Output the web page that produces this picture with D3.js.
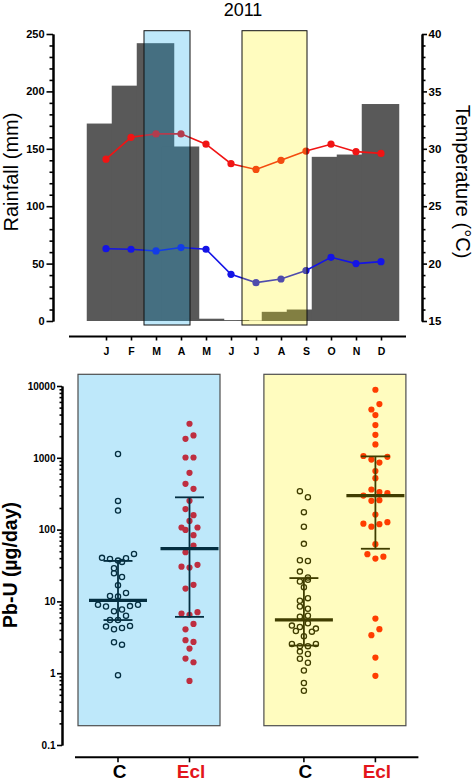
<!DOCTYPE html>
<html>
<head>
<meta charset="utf-8">
<script src="https://cdn.jsdelivr.net/npm/d3@7"></script>
<style>
  html, body { margin: 0; padding: 0; background: #fff; }
  svg { display: block; font-family: "Liberation Sans", Arial, sans-serif; }
</style>
</head>
<body>
<svg id="chart" width="473" height="782"></svg>
<script>
// ---------------- DATA ----------------
const months = ["J","F","M","A","M","J","J","A","S","O","N","D"];
const rainfall = [172, 205, 242, 152, 2, 0.8, 0.3, 8, 10, 143, 145, 189];          // mm
const tempHigh = [29.1, 31.0, 31.3, 31.3, 30.4, 28.7, 28.2, 29.0, 29.8, 30.4, 29.75, 29.6]; // °C
const tempLow  = [21.3, 21.25, 21.1, 21.4, 21.25, 19.07, 18.34, 18.66, 19.4, 20.55, 20.0, 20.17];
const rainTicks = [0, 50, 100, 150, 200, 250];
const tempTicks = [15, 20, 25, 30, 35, 40];
const shadePeriods = [[1.52, 3.36], [5.44, 8.04]];   // month-index ranges of the two sampling periods
const title = "2011";

const groupLabels = ["C", "Ecl", "C", "Ecl"];
const pbC_1 = [1130, 251, 184, 40.4, 39, 37, 40, 45.9, 29, 35.5, 24.7, 21.9, 16.8,
  11.9, 11.7, 13.1, 9.0, 8.5, 7.3, 7.7, 8.6, 9.0, 5.5, 5.5, 6.3, 4.46, 4.1, 4.27, 4.56, 2.7, 2.5, 0.94];
const pbEcl_1 = [2980, 1840, 2050, 1010, 1010, 618, 434, 370, 252, 193, 159, 107, 132, 107, 99, 83.6,
  48.4, 60, 30.5, 29.6, 32.3, 15.1, 17, 6.76, 6.5, 7.07, 4.09, 4.86, 2.88, 2.73, 2.2, 1.6, 1.42, 0.78];
const pbC_2 = [343, 283, 175, 110, 63.3, 37.5, 36.6, 26, 18.9, 21.5, 20.0, 15.8, 10.2, 11.1, 8.5, 7.9,
  6.1, 6.3, 4.6, 4.41, 4.96, 4.18, 3.87, 3.27, 3.79, 2.56, 2.38, 2.38, 2.56, 2.0, 1.85, 1.59, 1.40, 1.09, 0.73, 0.57];
const pbEcl_2 = [8870, 4710, 5600, 3940, 2860, 2090, 1535, 1060, 946, 859, 1033, 653, 521, 298, 362, 333, 322,
  252, 257, 162, 121, 110, 119, 127, 62.7, 45.5, 39.5, 42, 5.76, 3.38, 4.1, 1.65, 0.92];
const logTicks = [0.1, 1, 10, 100, 1000, 10000];

// ---------------- SETUP ----------------
const svg = d3.select("#chart");
const FONT = '"Liberation Sans", Arial, sans-serif';
const shadeFill = ["rgba(15,171,236,0.27)", "rgba(255,245,0,0.25)"];

function styleAxis(g, fs) {
  g.selectAll(".domain").attr("stroke", "#000").attr("stroke-width", 2);
  g.selectAll(".tick line").attr("stroke", "#000").attr("stroke-width", 1.6);
  g.selectAll(".tick text").attr("font-size", fs).attr("font-weight", "bold")
    .attr("font-family", FONT).attr("fill", "#000");
}

// ================= TOP CHART =================
const xM = d3.scaleLinear().domain([0, 11]).range([106, 381]);
const yR = d3.scaleLinear().domain([0, 250]).range([321, 34]);
const yT = d3.scaleLinear().domain([15, 40]).range([321, 34]);
const step = xM(1) - xM(0);

svg.append("text").attr("x", 243).attr("y", 16).attr("text-anchor", "middle")
  .attr("font-size", 18).attr("font-family", FONT).text(title);

// bars (wide overlapping bars, step-like look)
const topG = svg.append("g");
topG.selectAll("rect.bar").data(rainfall).join("rect").attr("class", "bar")
  .attr("x", (d, i) => xM(i) - 0.77 * step)
  .attr("width", 1.5 * step)
  .attr("y", d => yR(d))
  .attr("height", d => yR(0) - yR(d))
  .attr("fill", "#595959");

// temperature lines
const lineT = d3.line().x((d, i) => xM(i)).y(d => yT(d));
[[tempHigh, "rgb(240,20,20)"], [tempLow, "rgb(20,20,230)"]].forEach(([arr, col]) => {
  topG.append("path").datum(arr).attr("d", lineT).attr("fill", "none")
    .attr("stroke", col).attr("stroke-width", 1.6);
  topG.selectAll(null).data(arr).join("circle")
    .attr("cx", (d, i) => xM(i)).attr("cy", d => yT(d)).attr("r", 3.6).attr("fill", col);
});

// shaded sampling periods
shadePeriods.forEach((p, k) => {
  topG.append("rect")
    .attr("x", xM(p[0])).attr("width", xM(p[1]) - xM(p[0]))
    .attr("y", yR(250) - 3.3).attr("height", (yR(0) + 4) - (yR(250) - 3.3))
    .attr("fill", shadeFill[k]).attr("stroke", "#111").attr("stroke-width", 1);
});

// left axis
const gL = svg.append("g").attr("transform", "translate(53,0)");
gL.call(d3.axisLeft(yR).tickValues(d3.range(0, 251, 10).filter(v => v % 50)).tickSize(3.5).tickFormat("").tickSizeOuter(0));
gL.append("g").call(d3.axisLeft(yR).tickValues(rainTicks).tickSize(6.5).tickPadding(2).tickSizeOuter(0));
styleAxis(gL, 11);
// right axis
const gR = svg.append("g").attr("transform", "translate(422,0)");
gR.call(d3.axisRight(yT).tickValues(d3.range(15, 41, 1).filter(v => v % 5)).tickSize(3.5).tickFormat("").tickSizeOuter(0));
gR.append("g").call(d3.axisRight(yT).tickValues(tempTicks).tickSize(5).tickPadding(1.5).tickSizeOuter(0));
styleAxis(gR, 11.5);

// month axis
const gM = svg.append("g").attr("transform", "translate(0,336.5)");
gM.append("line").attr("x1", xM(-1.48)).attr("x2", xM(12)).attr("stroke", "#000").attr("stroke-width", 2);
gM.append("g").call(d3.axisBottom(xM).tickValues(d3.range(12)).tickFormat(i => months[i]).tickSize(4).tickPadding(7).tickSizeOuter(0))
  .call(g => g.select(".domain").remove());
styleAxis(gM, 10.5);

svg.append("text").attr("transform", "translate(18,172) rotate(-90)").attr("text-anchor", "middle")
  .attr("font-size", 20).attr("font-family", FONT).text("Rainfall (mm)");
svg.append("text").attr("transform", "translate(456,181.5) rotate(90)").attr("text-anchor", "middle")
  .attr("font-size", 20).attr("font-family", FONT).text("Temperature (°C)");

// ================= BOTTOM CHART =================
const yL = d3.scaleLog().domain([0.1, 10000]).range([745, 386]);
const groupPos = [0, 1, 2.6, 3.6];
const xG = d3.scaleLinear().domain([0, 1]).range([118, 189.5]);
const groups = [pbC_1, pbEcl_1, pbC_2, pbEcl_2];

function q6(sorted, p) {   // quantile, (n+1)p method
  const n = sorted.length, h = (n + 1) * p;
  if (h <= 1) return sorted[0];
  if (h >= n) return sorted[n - 1];
  const f = Math.floor(h);
  return sorted[f - 1] + (h - f) * (sorted[f] - sorted[f - 1]);
}

function swarm(vals, cx) {
  const pts = vals.map((v, i) => ({ v, i, y: yL(v) }));
  const sorted = pts.slice().sort((a, b) => a.y - b.y || a.i - b.i);
  const rows = [];
  let cur = null;
  sorted.forEach(p => {
    if (!cur || p.y - cur.y0 >= 7) { cur = { y0: p.y, pts: [] }; rows.push(cur); }
    cur.pts.push(p);
  });
  rows.forEach(r => {
    r.pts.sort((a, b) => a.i - b.i);
    const n = r.pts.length;
    r.pts.forEach((p, k) => { p.x = cx + (k - (n - 1) / 2) * 8; });
  });
  return pts;
}

const bot = svg.append("g");
groups.forEach((vals, gi) => {
  const cx = xG(groupPos[gi]);
  const isEcl = gi % 2 === 1;
  const pts = swarm(vals, cx);
  const s = vals.slice().sort((a, b) => a - b);
  const med = q6(s, 0.5), q1 = q6(s, 0.25), q3 = q6(s, 0.75);
  const g = bot.append("g");
  g.selectAll("circle").data(pts).join("circle")
    .attr("cx", d => d.x).attr("cy", d => d.y)
    .attr("r", isEcl ? 3.1 : 2.6)
    .attr("fill", isEcl ? "rgb(255,0,0)" : "none")
    .attr("stroke", isEcl ? "none" : "#000")
    .attr("stroke-width", 1.3);
  g.append("line").attr("x1", cx).attr("x2", cx).attr("y1", yL(q1)).attr("y2", yL(q3))
    .attr("stroke", "#000").attr("stroke-width", 1.8);
  [q1, q3].forEach(q => g.append("line").attr("x1", cx - 14.5).attr("x2", cx + 14.5)
    .attr("y1", yL(q)).attr("y2", yL(q)).attr("stroke", "#000").attr("stroke-width", 1.8));
  g.append("line").attr("x1", cx - 29).attr("x2", cx + 29).attr("y1", yL(med)).attr("y2", yL(med))
    .attr("stroke", "#000").attr("stroke-width", 3.2);
});

// panels (overlay)
[[0, 1], [2, 3]].forEach(([a, b], k) => {
  const x0 = xG(groupPos[a]) - 40, x1 = xG(groupPos[b]) + 30.5;
  bot.append("rect").attr("x", x0).attr("width", x1 - x0)
    .attr("y", yL(10000) - 11.7).attr("height", (yL(0.1) - 19.3) - (yL(10000) - 11.7))
    .attr("fill", shadeFill[k]).attr("stroke", "#4d4d4d").attr("stroke-width", 1.2);
});

// log axis
const gY = svg.append("g").attr("transform", "translate(62,0)");
const minors = [];
logTicks.slice(0, -1).forEach(d => { for (let k = 2; k <= 9; k++) minors.push(d * k); });
gY.call(d3.axisLeft(yL).tickValues(minors).tickSize(2.5).tickFormat("").tickSizeOuter(0));
gY.append("g").call(d3.axisLeft(yL).tickValues(logTicks).tickSize(5).tickPadding(1.5)
  .tickFormat(d => d < 1 ? String(d) : d3.format("d")(d)).tickSizeOuter(0));
styleAxis(gY, 10);

// group axis
const gX = svg.append("g").attr("transform", "translate(0,757.3)");
gX.append("line").attr("x1", xG(0) - 43).attr("x2", xG(3.6) + 43).attr("stroke", "#000").attr("stroke-width", 2);
groupPos.forEach((p, i) => {
  gX.append("line").attr("x1", xG(p)).attr("x2", xG(p)).attr("y1", 0).attr("y2", 5)
    .attr("stroke", "#000").attr("stroke-width", 1.6);
  gX.append("text").attr("x", xG(p) + 1.5).attr("y", 20.5).attr("text-anchor", "middle")
    .attr("font-size", 19).attr("font-weight", "bold").attr("font-family", FONT)
    .attr("fill", groupLabels[i] === "Ecl" ? "#e3151b" : "#000").text(groupLabels[i]);
});

svg.append("text").attr("transform", "translate(17,565) rotate(-90)").attr("text-anchor", "middle")
  .attr("font-size", 19.5).attr("font-weight", "bold").attr("font-family", FONT).text("Pb-U (µg/day)");
</script>
</body>
</html>
